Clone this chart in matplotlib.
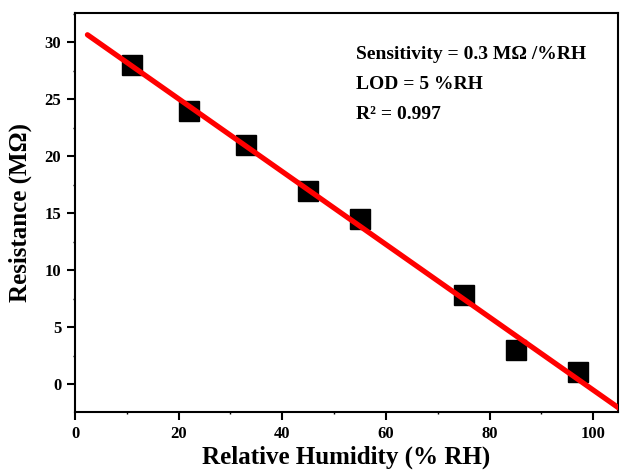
import numpy as np
import matplotlib
matplotlib.use("Agg")
import matplotlib.pyplot as plt
from matplotlib.ticker import MultipleLocator

plt.rcParams['font.family'] = ['Liberation Serif', 'DejaVu Serif']
plt.rcParams['font.weight'] = 'bold'

# humidity levels and measured resistance
humidity = [11, 22, 33, 45, 55, 75, 85, 97]
resistance = [28.0, 24.0, 21.0, 17.0, 14.5, 7.8, 3.0, 1.05]

# linear fit through the measurements
slope, intercept = np.polyfit(humidity, resistance, 1)
fit_x = np.array([2.4, 110])
fit_y = slope * fit_x + intercept

fig = plt.figure(figsize=(6.2, 4.73), dpi=100)
ax = fig.add_axes([0.121, 0.129, 0.876, 0.8436])

ax.plot(humidity, resistance, "s", color="black", markersize=14.5, zorder=2)
ax.plot(fit_x, fit_y, "-", color="#ff0000", linewidth=3.8, solid_capstyle="round", zorder=3)

ax.set_xlim(0, 104.8)
ax.set_ylim(-2.42, 32.57)
ax.xaxis.set_major_locator(MultipleLocator(20))
ax.xaxis.set_minor_locator(MultipleLocator(10))
ax.yaxis.set_major_locator(MultipleLocator(5))
ax.yaxis.set_minor_locator(MultipleLocator(2.5))

ax.tick_params(which="major", direction="out", length=6, width=1.5, labelsize=12, pad=4)
ax.tick_params(which="minor", direction="out", length=1.5, width=1.0)
ax.tick_params(top=False, right=False)
for s in ax.spines.values():
    s.set_linewidth(1.5)

ax.set_xlabel("Relative Humidity (% RH)", fontsize=18, fontweight="bold", labelpad=3)
ax.set_ylabel("Resistance (MΩ)", fontsize=18, fontweight="bold", labelpad=9)

ax.text(0.518, 0.895, "Sensitivity = 0.3 MΩ /%RH", transform=ax.transAxes, fontsize=14, fontweight="bold", va="center")
ax.text(0.518, 0.820, "LOD = 5 %RH", transform=ax.transAxes, fontsize=14, fontweight="bold", va="center")
ax.text(0.518, 0.745, "R² = 0.997", transform=ax.transAxes, fontsize=14, fontweight="bold", va="center")

fig.savefig("out.png", dpi=100)
